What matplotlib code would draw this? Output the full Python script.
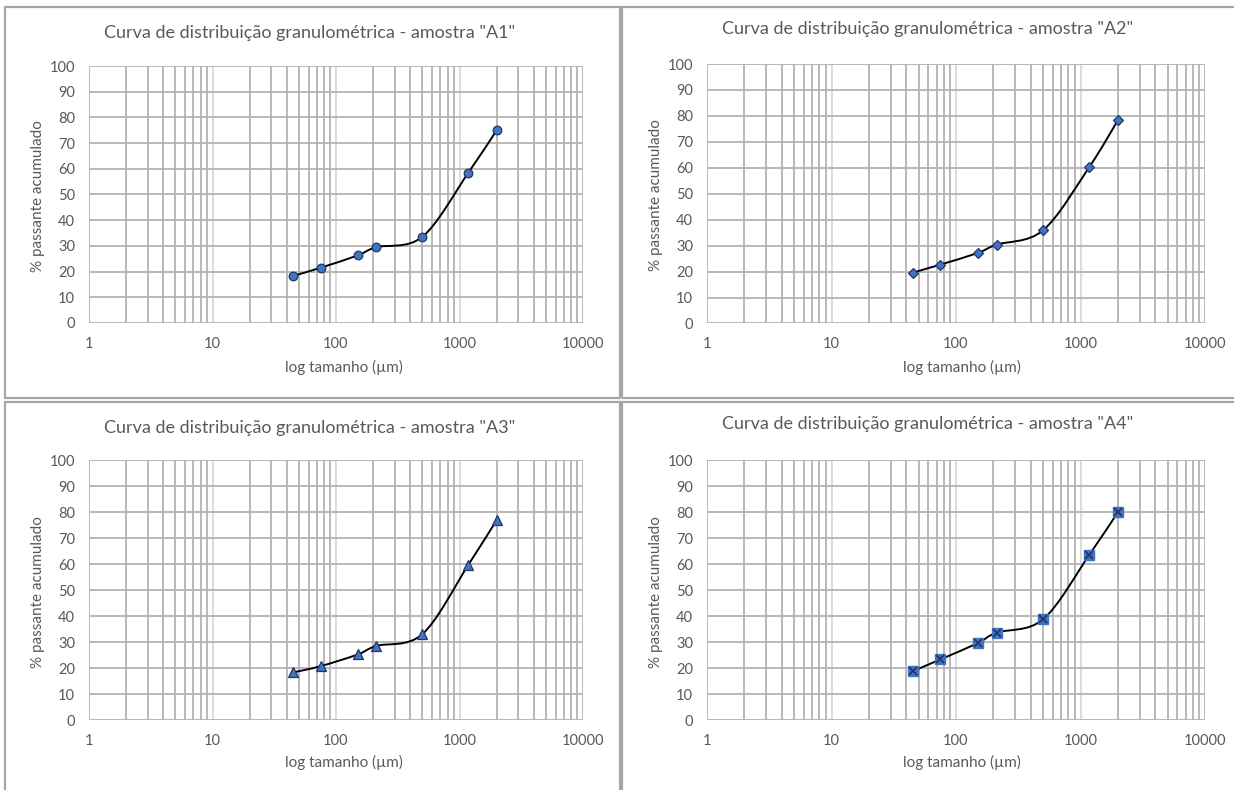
import numpy as np
import matplotlib
matplotlib.use("Agg")
import matplotlib.pyplot as plt
from matplotlib.path import Path
from matplotlib.patches import PathPatch, Rectangle
from matplotlib.ticker import FixedLocator, NullFormatter, FixedFormatter

plt.rcParams['font.family'] = ['Lato', 'DejaVu Sans']

# ---------------- data ----------------
sizes_um = [45, 75, 150, 212, 500, 1180, 2000]
a1 = [18.3, 21.5, 26.3, 29.5, 33.5, 58.5, 75.0]
a2 = [19.6, 22.7, 27.2, 30.4, 35.9, 60.4, 78.4]
a3 = [18.3, 20.7, 25.2, 28.5, 33.0, 59.7, 76.9]
a4 = [18.8, 23.3, 29.6, 33.6, 38.7, 63.6, 80.0]
titles = ['Curva de distribuição granulométrica - amostra "A1"',
          'Curva de distribuição granulométrica - amostra "A2"',
          'Curva de distribuição granulométrica - amostra "A3"',
          'Curva de distribuição granulométrica - amostra "A4"']
x_major = [1, 10, 100, 1000, 10000]
x_labels = ['1', '10', '100', '1000', '10000']
y_ticks = list(range(0, 101, 10))
xlabel = 'log tamanho (µm)'
ylabel = '% passante acumulado'

W, H = 1234, 790
fig = plt.figure(figsize=(W / 100, H / 100), dpi=100)
fig.patch.set_facecolor('white')

TXT = '#595959'
GRID = '#B3B3B3'
GRID_MAJ = '#D9D9D9'
FILL = '#4472C4'
EDGE = '#1F3864'


def px_axes(l, r, t, b):
    return fig.add_axes([l / W, 1 - b / H, (r - l) / W, (b - t) / H])


def smooth_path(xs, ys):
    # Bezier (Catmull-Rom style, as spreadsheet "smoothed line") in log-x space
    lx = np.log10(np.asarray(xs, float))
    yy = np.asarray(ys, float)
    n = len(lx)
    verts = [(xs[0], ys[0])]
    codes = [Path.MOVETO]
    for i in range(n - 1):
        i0 = max(i - 1, 0)
        i3 = min(i + 2, n - 1)
        c1x = lx[i] + (lx[i + 1] - lx[i0]) / 6
        c1y = yy[i] + (yy[i + 1] - yy[i0]) / 6
        c2x = lx[i + 1] - (lx[i3] - lx[i]) / 6
        c2y = yy[i + 1] - (yy[i3] - yy[i]) / 6
        verts += [(10 ** c1x, c1y), (10 ** c2x, c2y), (xs[i + 1], ys[i + 1])]
        codes += [Path.CURVE4] * 3
    return Path(verts, codes)


# panel borders (pixel boxes)
borders = [(5, 7, 620, 398), (622, 7, 1240, 398), (5, 402, 620, 800), (622, 402, 1240, 800)]
for (l, t, r, b) in borders:
    fig.patches.append(Rectangle((l / W, 1 - b / H), (r - l) / W, (b - t) / H,
                                 transform=fig.transFigure, fill=False,
                                 edgecolor='#A6A6A6', linewidth=1.6))

axes_boxes = [(89, 583, 66, 323), (707, 1205, 64, 323.5),
              (89, 583, 460, 720), (707, 1205, 460, 720)]
title_pos = [(310, 33), (928, 29), (310, 428), (928, 424)]
ylab_pos = [(38, 196), (656, 195), (38, 592), (656, 592)]
xlab_pos = [(344, 367), (962, 367), (344, 762), (962, 762)]
series = [a1, a2, a3, a4]
markers = ['o', 'D', '^', 's']
msizes = [6.2, 5.2, 6.5, 6.5]

for k in range(4):
    ax = px_axes(*axes_boxes[k])
    ax.set_xscale('log')
    ax.set_xlim(1, 10000)
    ax.set_ylim(0, 100)
    ax.set_facecolor('white')
    for s in ax.spines.values():
        s.set_visible(False)
    # gridlines
    minors = [m * d for d in [1, 10, 100, 1000] for m in range(2, 10)]
    for xv in minors:
        ax.axvline(xv, color=GRID, lw=1.3, zorder=1)
    for xv in [10, 100, 1000]:
        ax.axvline(xv, color=GRID_MAJ, lw=1.3, zorder=1)
    for xv in [1, 10000]:
        ax.axvline(xv, color=GRID, lw=1.3, zorder=1)
    for yv in y_ticks:
        ax.axhline(yv, color=GRID, lw=1.3, zorder=1)
    ax.xaxis.set_major_locator(FixedLocator(x_major))
    ax.xaxis.set_major_formatter(FixedFormatter(x_labels))
    ax.xaxis.set_minor_formatter(NullFormatter())
    ax.set_yticks(y_ticks)
    ax.tick_params(axis='both', which='both', length=0, colors=TXT, labelsize=10.5)
    ax.tick_params(axis='x', pad=10)
    ax.tick_params(axis='y', pad=10)
    for lab in ax.get_xticklabels() + ax.get_yticklabels():
        lab.set_color(TXT)

    ys = series[k]
    ax.add_patch(PathPatch(smooth_path(sizes_um, ys), fill=False,
                           edgecolor='black', lw=1.4, zorder=3))
    if markers[k] == 's':
        ax.plot(sizes_um, ys, ls='none', marker='s', ms=msizes[k], mfc=FILL,
                mec=FILL, zorder=4, clip_on=False)
        ax.plot(sizes_um, ys, ls='none', marker='x', ms=5.5, mec=EDGE,
                mew=1.3, zorder=5, clip_on=False)
    else:
        ax.plot(sizes_um, ys, ls='none', marker=markers[k], ms=msizes[k],
                mfc=FILL, mec=EDGE, mew=0.9, zorder=4, clip_on=False)

    tx, ty = title_pos[k]
    fig.text(tx / W, 1 - ty / H, titles[k], ha='center', va='center',
             fontsize=13, color=TXT)
    yx, yy = ylab_pos[k]
    fig.text(yx / W, 1 - yy / H, ylabel, ha='center', va='center',
             rotation=90, fontsize=11, color=TXT)
    xx, xy = xlab_pos[k]
    fig.text(xx / W, 1 - xy / H, xlabel, ha='center', va='center',
             fontsize=11, color=TXT)

fig.savefig('out.png', dpi=100, facecolor='white')
